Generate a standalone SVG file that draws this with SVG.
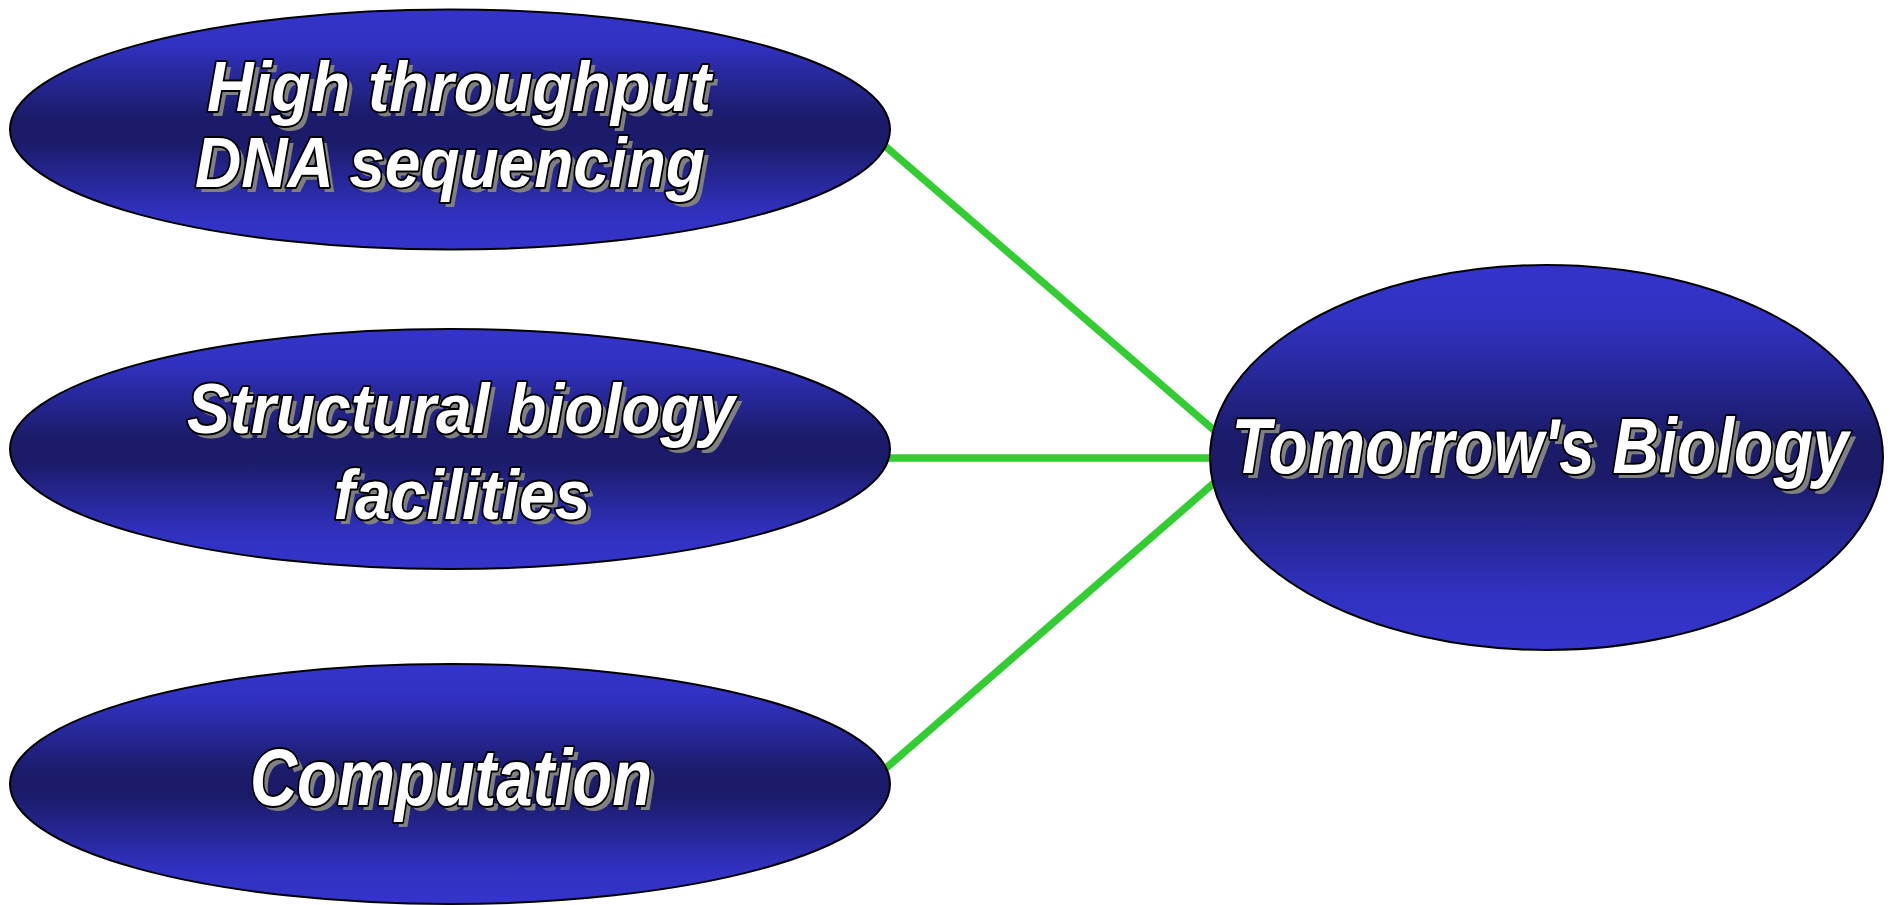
<svg xmlns="http://www.w3.org/2000/svg" width="1890" height="905" viewBox="0 0 1890 905">
<style>
.node{stroke:#000;stroke-width:2;fill:url(#g)}
.conn{stroke:#33cc33;stroke-width:7.5;fill:none}
.t{font-family:"Liberation Sans",Arial,sans-serif;font-weight:bold;font-style:italic;text-anchor:middle}
.sh{fill:#808080}
.fg{fill:#fff;stroke:#000;stroke-width:4;paint-order:stroke;stroke-linejoin:round}
</style>
<defs>
<linearGradient id="g" x1="0" y1="0" x2="0" y2="1">
<stop offset="0" stop-color="#3434cc"/>
<stop offset="0.15" stop-color="#3131c0"/>
<stop offset="0.45" stop-color="#1b1b69"/>
<stop offset="0.55" stop-color="#1b1b69"/>
<stop offset="0.85" stop-color="#3131c0"/>
<stop offset="1" stop-color="#3434cc"/>
</linearGradient>
</defs>
<rect width="1890" height="905" fill="#fff"/>
<g id="connectors">
<line class="conn" x1="870" y1="133" x2="1230" y2="444"/>
<line class="conn" x1="880" y1="458" x2="1225" y2="458"/>
<line class="conn" x1="870" y1="782" x2="1230" y2="469"/>
</g>
<g id="node-dna">
<ellipse class="node" cx="450" cy="129.5" rx="440" ry="120"/>
<g class="t" font-size="70">
<text class="sh" x="464" y="116" textLength="504" lengthAdjust="spacingAndGlyphs">High throughput</text>
<text class="sh" x="455" y="192" textLength="510" lengthAdjust="spacingAndGlyphs">DNA sequencing</text>
<text class="fg" x="459" y="111" textLength="504" lengthAdjust="spacingAndGlyphs">High throughput</text>
<text class="fg" x="450" y="187" textLength="510" lengthAdjust="spacingAndGlyphs">DNA sequencing</text>
</g>
</g>
<g id="node-structural">
<ellipse class="node" cx="450" cy="449" rx="440" ry="120"/>
<g class="t" font-size="70">
<text class="sh" x="466" y="438" textLength="548" lengthAdjust="spacingAndGlyphs">Structural biology</text>
<text class="sh" x="467" y="524" textLength="257" lengthAdjust="spacingAndGlyphs">facilities</text>
<text class="fg" x="461" y="433" textLength="548" lengthAdjust="spacingAndGlyphs">Structural biology</text>
<text class="fg" x="462" y="519" textLength="257" lengthAdjust="spacingAndGlyphs">facilities</text>
</g>
</g>
<g id="node-computation">
<ellipse class="node" cx="450" cy="784" rx="440" ry="120"/>
<g class="t" font-size="80">
<text class="sh" x="456" y="810" textLength="402" lengthAdjust="spacingAndGlyphs">Computation</text>
<text class="fg" x="451" y="805" textLength="402" lengthAdjust="spacingAndGlyphs">Computation</text>
</g>
</g>
<g id="node-tomorrow">
<ellipse class="node" cx="1546.5" cy="457.5" rx="336.5" ry="192.5"/>
<g class="t" font-size="78">
<text class="sh" x="1545" y="478" textLength="617" lengthAdjust="spacingAndGlyphs">Tomorrow's Biology</text>
<text class="fg" x="1540" y="473" textLength="617" lengthAdjust="spacingAndGlyphs">Tomorrow's Biology</text>
</g>
</g>
</svg>
